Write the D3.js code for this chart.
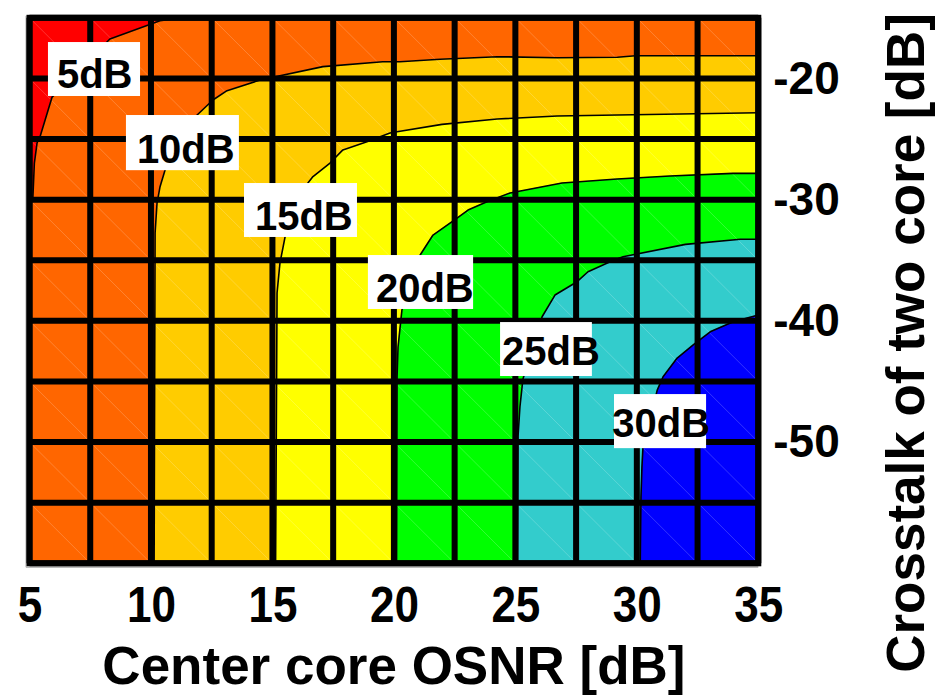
<!DOCTYPE html>
<html>
<head>
<meta charset="utf-8">
<script src="https://cdn.jsdelivr.net/npm/d3@7"></script>
<style>
  html, body { margin: 0; padding: 0; background: #fff; }
  svg { display: block; }
  text { font-family: "Liberation Sans", Arial, sans-serif; font-weight: bold; fill: #000; }
</style>
</head>
<body>
<svg id="chart" width="936" height="696"></svg>
<script>
// Total OSNR contour levels (dB) and their labels
const levels = [5, 10, 15, 20, 25, 30];
const levelLabels = ["5dB", "10dB", "15dB", "20dB", "25dB", "30dB"];
// Band colours: below 5 dB, 5-10, 10-15, 15-20, 20-25, 25-30, above 30
const bandColors = ["#ff0000", "#ff6600", "#ffcc00", "#ffff00", "#00ff00", "#33cccc", "#0000ff"];

// Iso-OSNR lines as [center core OSNR (dB), crosstalk of two core (dB)]
const contour5 = [[11.32, -15.0], [10.37, -15.24], [8.31, -16.75], [5.93, -21.54], [5.43, -24.83],
  [5.31, -25.33], [5.2, -27.0], [5.14, -29.78], [5.0, -30.5]];
const contour10 = [[35, -18.13], [29.94, -18.13], [29.2, -18.26], [26.72, -18.29], [24.25, -18.21],
  [21.9, -18.42], [20.24, -18.62], [19.54, -18.62], [17.08, -19.03], [14.49, -20.13], [13.13, -21.01],
  [12.55, -21.78], [11.9, -23.02], [10.58, -27.56], [10.37, -28.96], [10.25, -30.28], [10.17, -32.75],
  [10.13, -60]];
const contour15 = [[35, -22.83], [29.2, -23.02], [26.72, -23.1], [24.25, -23.35], [21.98, -23.79],
  [20.13, -24.4], [19.84, -24.5], [18.89, -25.22], [17.9, -25.9], [17.37, -26.98], [16.67, -28.1],
  [16.46, -28.63], [15.52, -33.08], [15.31, -35.23], [15.19, -37.7], [15.13, -60]];
const contour20 = [[35, -27.83], [33.96, -27.83], [31.37, -28.05], [29.19, -28.3], [26.92, -28.63],
  [24.78, -29.45], [23.83, -30.17], [23.05, -30.86], [22.6, -31.52], [21.61, -32.92], [21.08, -34.57],
  [20.33, -39.11], [20.17, -42.16], [20.13, -44.63], [20.11, -60]];
const contour25 = [[35, -33.27], [34.26, -33.27], [32.0, -33.69], [29.43, -34.71], [28.9, -35.12],
  [27.99, -35.95], [27.54, -36.77], [26.63, -37.87], [26.1, -39.66], [25.31, -44.82], [25.19, -47.05],
  [25.11, -49.52], [25.09, -60]];
const contour30 = [[35, -39.52], [33.97, -40.07], [33.02, -40.9], [32.32, -41.99], [31.66, -43.07],
  [31.08, -44.61], [30.84, -45.71], [30.25, -50.5], [30.21, -52.07], [30.17, -54.55], [30.14, -60]];
const contours = [contour5, contour10, contour15, contour20, contour25, contour30];

// Axis ticks and grid
const xTicks = [5, 10, 15, 20, 25, 30, 35];
const yTicks = [-20, -30, -40, -50];
const xGrid = [5, 7.5, 10, 12.5, 15, 17.5, 20, 22.5, 25, 27.5, 30, 32.5, 35];
const yGrid = [-15, -20, -25, -30, -35, -40, -45, -50, -55, -60];

// Label placement in data units: text start, baseline, and white box [x0, x1, yTop, yBottom]
const labelText = [[6.13, -20.83], [9.42, -26.98], [14.28, -32.51], [19.26, -38.45], [24.45, -43.65], [28.99, -49.58]];
const labelBox = [[5.76, 9.55, -17.0, -21.45], [8.97, 13.62, -23.02, -27.57], [13.83, 18.48, -28.63, -33.08],
  [18.93, 23.26, -34.57, -39.02], [24.37, 28.15, -40.1, -44.55], [29.06, 32.85, -46.04, -50.5]];

const svg = d3.select("#chart");
const plot = { left: 29.5, right: 758.3, top: 17.8, bottom: 563.3 };

const x = d3.scaleLinear().domain([5, 35]).range([plot.left, plot.right]);
const y = d3.scaleLinear().domain([-15, -60]).range([plot.top, plot.bottom]);
const [xMin, xMax] = x.domain();
const [yMax, yMin] = y.domain();

svg.append("defs").append("clipPath").attr("id", "plotClip")
  .append("rect")
  .attr("x", plot.left).attr("y", plot.top)
  .attr("width", plot.right - plot.left).attr("height", plot.bottom - plot.top);

// Soft shadow along the left and bottom of the frame
svg.append("path")
  .attr("d", `M${plot.left - 3.5},${plot.top - 2} V${plot.bottom + 4} H${plot.right}`)
  .attr("fill", "none").attr("stroke", "#aaa").attr("stroke-width", 1);

const field = svg.append("g").attr("clip-path", "url(#plotClip)");

// Lowest band covers the whole field
field.append("rect")
  .attr("x", x(xMin)).attr("y", y(yMax))
  .attr("width", x(xMax) - x(xMin)).attr("height", y(yMin) - y(yMax))
  .attr("fill", bandColors[0]);

// Each band above a level lies below/right of that level's line
const line = d3.line().x(d => x(d[0])).y(d => y(d[1]));
contours.forEach((pts, i) => {
  const first = pts[0], last = pts[pts.length - 1];
  const ring = pts.concat([[last[0], yMin], [xMax, yMin], [xMax, first[1]]]);
  field.append("path")
    .attr("d", line(ring) + "Z")
    .attr("fill", bandColors[i + 1])
    .attr("stroke", bandColors[i + 1])
    .attr("stroke-width", 0.5);
});

// Faint cell diagonals of the filled mesh
const cells = [];
for (let i = 0; i < xGrid.length - 1; i++) {
  for (let j = 0; j < yGrid.length - 1; j++) {
    cells.push([xGrid[i], yGrid[j], xGrid[i + 1], yGrid[j + 1]]);
  }
}
field.append("g").selectAll("line").data(cells).join("line")
  .attr("x1", d => x(d[0])).attr("y1", d => y(d[1]))
  .attr("x2", d => x(d[2])).attr("y2", d => y(d[3]))
  .attr("stroke", "#fff").attr("stroke-opacity", 0.25).attr("stroke-width", 0.8);

// Contour lines
field.append("g").selectAll("path").data(contours).join("path")
  .attr("d", d => line(d))
  .attr("fill", "none")
  .attr("stroke", "#000")
  .attr("stroke-width", 1.6)
  .attr("stroke-linejoin", "round");

// Heavy grid
const grid = svg.append("g");
grid.selectAll("line.v").data(xGrid).join("line").attr("class", "v")
  .attr("x1", d => x(d)).attr("x2", d => x(d))
  .attr("y1", plot.top).attr("y2", plot.bottom)
  .attr("stroke", "#000").attr("stroke-width", 6);
grid.selectAll("line.h").data(yGrid).join("line").attr("class", "h")
  .attr("y1", d => y(d)).attr("y2", d => y(d))
  .attr("x1", plot.left).attr("x2", plot.right)
  .attr("stroke", "#000").attr("stroke-width", 6);
svg.append("rect")
  .attr("x", plot.left).attr("y", plot.top)
  .attr("width", plot.right - plot.left).attr("height", plot.bottom - plot.top)
  .attr("fill", "none").attr("stroke", "#000").attr("stroke-width", 6)
  .attr("stroke-linejoin", "miter");

// Level labels
const labels = svg.append("g");
levelLabels.forEach((t, i) => {
  const b = labelBox[i];
  labels.append("rect")
    .attr("x", x(b[0])).attr("y", y(b[2]))
    .attr("width", x(b[1]) - x(b[0])).attr("height", y(b[3]) - y(b[2]))
    .attr("fill", "#fff");
  labels.append("text")
    .attr("x", x(labelText[i][0])).attr("y", y(labelText[i][1]))
    .attr("font-size", 40)
    .text(t);
});

// Axes
const xAxis = svg.append("g")
  .attr("transform", `translate(0,${plot.bottom})`)
  .call(d3.axisBottom(x).tickValues(xTicks).tickSize(0).tickPadding(23).tickFormat(d => String(d)));
const yAxis = svg.append("g")
  .attr("transform", `translate(${plot.right},0)`)
  .call(d3.axisRight(y).tickValues(yTicks).tickSize(0).tickPadding(15).tickFormat(d => String(d)));
[xAxis, yAxis].forEach(g => {
  g.select(".domain").remove();
  g.attr("font-family", null).attr("font-size", null);
});
xAxis.selectAll("text").attr("font-size", 50).attr("transform", "scale(0.88,1)");
yAxis.selectAll("text").attr("font-size", 46);

svg.append("text")
  .attr("x", (plot.left + plot.right) / 2).attr("y", 684)
  .attr("text-anchor", "middle")
  .attr("font-size", 53)
  .text("Center core OSNR [dB]");
svg.append("text")
  .attr("transform", "translate(924,343) rotate(-90)")
  .attr("text-anchor", "middle")
  .attr("font-size", 53)
  .text("Crosstalk of two core [dB]");
</script>
</body>
</html>
